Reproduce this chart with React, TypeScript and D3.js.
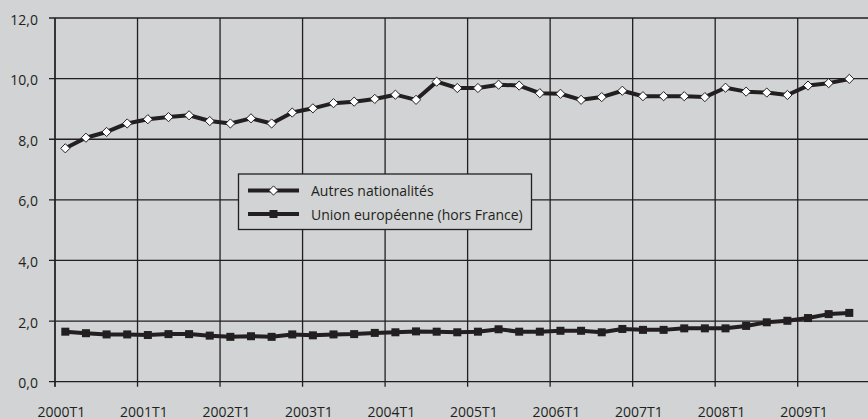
import React from 'react';
import * as d3 from 'd3';

const quarters: string[] = [];
for (let y = 2000; y <= 2009; y++) {
  for (let q = 1; q <= 4; q++) {
    if (y === 2009 && q === 4) break;
    quarters.push(`${y}T${q}`);
  }
}

const autresNationalites = [
  7.70, 8.05, 8.24, 8.52, 8.66, 8.73, 8.79, 8.60, 8.52, 8.69, 8.52, 8.88,
  9.02, 9.19, 9.24, 9.33, 9.47, 9.30, 9.90, 9.69, 9.69, 9.80, 9.77, 9.52,
  9.50, 9.30, 9.39, 9.60, 9.42, 9.42, 9.42, 9.39, 9.70, 9.57, 9.54, 9.46,
  9.77, 9.85, 9.99,
];

const unionEuropeenne = [
  1.65, 1.60, 1.56, 1.56, 1.54, 1.57, 1.57, 1.52, 1.48, 1.50, 1.48, 1.56,
  1.53, 1.56, 1.57, 1.61, 1.63, 1.66, 1.65, 1.63, 1.65, 1.73, 1.65, 1.65,
  1.68, 1.68, 1.63, 1.74, 1.71, 1.71, 1.76, 1.76, 1.76, 1.84, 1.96, 2.01,
  2.10, 2.23, 2.27,
];

const yTicks = [0, 2, 4, 6, 8, 10, 12];
const xLabelQuarters = quarters.filter((q) => q.endsWith('T1'));

const W = 868;
const H = 419;
const left = 55;
const top = 18;
const bottom = 381.7;
const right = 859.6;

const INK = '#231f20';
const BG = '#d1d3d4';
const FONT = '"Open Sans", "Noto Sans", sans-serif';
const FS = 14;

export default function App() {
  const x = d3.scaleBand<string>().domain(quarters).range([left, right]).paddingInner(0).paddingOuter(0);
  const y = d3.scaleLinear().domain([0, 12]).range([bottom, top]);
  const cx = (q: string) => (x(q) ?? 0) + x.bandwidth() / 2;

  const line = d3
    .line<number>()
    .x((_, i) => cx(quarters[i]))
    .y((d) => y(d));

  const fmt = (v: number) => v.toFixed(1).replace('.', ',');
  const diamond = (r: number) => `M0,${-r}L${r},0L0,${r}L${-r},0Z`;

  return (
    <svg
      width={W}
      height={H}
      style={{ position: 'absolute', left: 0, top: 0, background: BG }}
      fontFamily={FONT}
    >
      <rect x={0} y={0} width={W} height={H} fill={BG} />

      {/* horizontal gridlines + y ticks */}
      {yTicks.map((t) => (
        <g key={t}>
          <line x1={left - 6} x2={W} y1={y(t)} y2={y(t)} stroke={INK} strokeWidth={1.3} />
          <text
            x={38}
            y={y(t) + 1}
            textAnchor="end"
            dominantBaseline="central"
            fontSize={FS}
            fill={INK}
          >
            {fmt(t)}
          </text>
        </g>
      ))}

      {/* vertical gridlines at year starts */}
      {xLabelQuarters.map((q) => (
        <line
          key={q}
          x1={x(q)}
          x2={x(q)}
          y1={top}
          y2={bottom + 5}
          stroke={INK}
          strokeWidth={1.3}
        />
      ))}
      <line x1={left} x2={left} y1={top} y2={bottom + 5} stroke={INK} strokeWidth={1.3} />

      {xLabelQuarters.map((q) => (
        <text
          key={q}
          x={cx(q) - 4}
          y={411}
          textAnchor="middle"
          dominantBaseline="central"
          fontSize={FS}
          fill={INK}
        >
          {q}
        </text>
      ))}

      {/* series */}
      <path d={line(unionEuropeenne) ?? ''} fill="none" stroke={INK} strokeWidth={4} strokeLinejoin="round" />
      {unionEuropeenne.map((v, i) => (
        <rect
          key={i}
          x={cx(quarters[i]) - 4}
          y={y(v) - 4}
          width={8}
          height={8}
          fill={INK}
        />
      ))}

      <path d={line(autresNationalites) ?? ''} fill="none" stroke={INK} strokeWidth={4} strokeLinejoin="round" />
      {autresNationalites.map((v, i) => (
        <path
          key={i}
          d={diamond(4.6)}
          transform={`translate(${cx(quarters[i])},${y(v)})`}
          fill="#ffffff"
          stroke={INK}
          strokeWidth={1}
        />
      ))}

      {/* legend */}
      <g>
        <rect x={238.5} y={174} width={293} height={55.5} fill={BG} stroke={INK} strokeWidth={1.3} />
        <line x1={248} x2={299} y1={190.5} y2={190.5} stroke={INK} strokeWidth={4} />
        <path d={diamond(4.6)} transform="translate(273.5,190.5)" fill="#ffffff" stroke={INK} strokeWidth={1} />
        <text x={311} y={190.5} dominantBaseline="central" fontSize={FS} fill={INK}>
          Autres nationalités
        </text>
        <line x1={248} x2={299} y1={214} y2={214} stroke={INK} strokeWidth={4} />
        <rect x={269.5} y={210} width={8} height={8} fill={INK} />
        <text x={311} y={214} dominantBaseline="central" fontSize={FS} fill={INK}>
          Union européenne (hors France)
        </text>
      </g>
    </svg>
  );
}
